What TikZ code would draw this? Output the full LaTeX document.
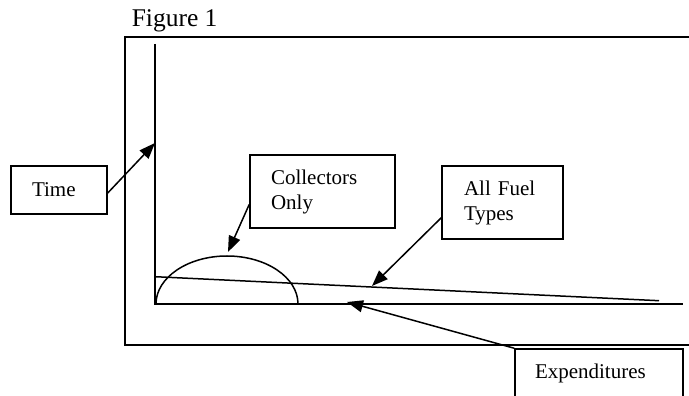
\documentclass[tikz,border=0pt]{standalone}
\usepackage{fontspec}
\setmainfont{Liberation Serif}
\usetikzlibrary{arrows.meta}
\begin{document}
\begin{tikzpicture}[x=1pt,y=1pt,line width=1.5pt,
  lbl/.style={draw,rectangle,font=\fontsize{21}{25}\selectfont,align=left,inner ysep=0pt,anchor=center},
  arr/.style={-{Triangle[length=16pt,width=12pt]}}]
\useasboundingbox (0,0) rectangle (689,396);
% title
\node[anchor=base west,inner sep=0pt,font=\fontsize{25.5}{30}\selectfont] (title) at (131,369) {Figure 1};
% outer frame (open at right)
\draw (695,359) -- (125,359) -- (125,51) -- (695,51);
% axes
\coordinate (O) at (155,92);
\coordinate (ytop) at (155,352);
\coordinate (xend) at (683,92);
\draw (ytop) -- (O) -- (xend);
% collectors-only curve
\draw (156,92) arc[start angle=180,end angle=0,x radius=71,y radius=48];
% all fuel types line
\coordinate (fa) at (155,119.3);
\coordinate (fb) at (659,95.3);
\draw (fa) -- (fb);
% label boxes
\node[lbl,inner xsep=21pt,text width=54pt,minimum height=48pt] (time) at (59,206) {Time};
\node[lbl,inner xsep=21pt,text width=103pt,minimum height=73pt] (coll) at (322.5,204.5) {Collectors\\Only};
\node[lbl,inner xsep=22pt,text width=77pt,minimum height=73pt] (fuel) at (502.5,193.5) {All Fuel\\Types};
\node[lbl,inner xsep=20pt,text width=128pt,minimum height=49pt] (exp) at (599,22.5) {Expenditures};
% arrow targets
\coordinate (ttip) at (155,253);
\coordinate (ctip) at (228,144);
\coordinate (ftip) at (372,110);
\coordinate (etip) at (347,94);
% arrows
\draw[arr] ([yshift=-3pt]time.east) -- (ttip);
\draw[arr] (coll.190.5) -- (ctip);
\draw[arr] (fuel.194.4) -- (ftip);
\draw[arr] (exp.north west) -- (etip);
\end{tikzpicture}
\end{document}
